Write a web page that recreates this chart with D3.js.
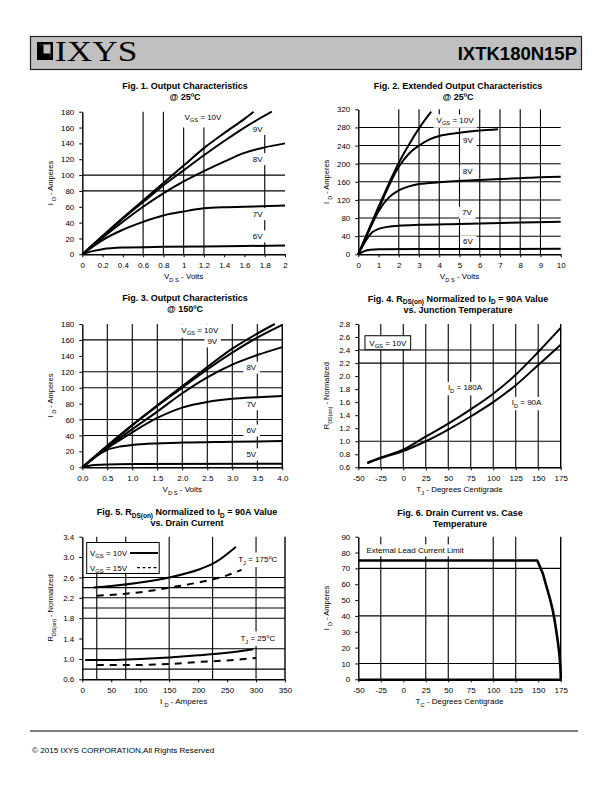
<!DOCTYPE html>
<html><head><meta charset="utf-8">
<script src="https://cdn.jsdelivr.net/npm/d3@7"></script>
<style>
body{margin:0;background:#fff}
svg{display:block}
text{font-family:"Liberation Sans",Arial,Helvetica,sans-serif;fill:#000}
</style>
</head><body>
<svg id="page" width="612" height="792"></svg>
<script>
// ---------------- DATA ----------------
// Fig 1 : Output characteristics @25C  [VDS (V), ID (A)]
const fig1XTicks = [0,0.2,0.4,0.6,0.8,1,1.2,1.4,1.6,1.8,2];
const fig1YTicks = [0,20,40,60,80,100,120,140,160,180];
const fig1Vgs10 = [[0,0],[0.2,23],[0.4,46],[0.6,68],[0.8,90],[1.0,112],[1.2,134],[1.4,153],[1.6,171],[1.69,180]];
const fig1Vgs9  = [[0,0],[0.2,23],[0.4,45],[0.6,66],[0.8,87],[1.0,106],[1.2,125],[1.4,143],[1.6,160],[1.87,180]];
const fig1Vgs8  = [[0,0],[0.2,21],[0.4,41],[0.6,60],[0.8,77],[1.0,92],[1.2,105],[1.4,117],[1.6,128],[1.8,135],[2.0,140]];
const fig1Vgs7  = [[0,0],[0.2,18],[0.4,31],[0.6,41],[0.8,49],[1.0,54],[1.2,58],[1.4,59.5],[1.6,60],[2.0,61.5]];
const fig1Vgs6  = [[0,0],[0.1,4],[0.2,6.5],[0.4,8.5],[0.8,9.5],[1.2,10],[2.0,11]];

// Fig 2 : Extended output characteristics @25C
const fig2XTicks = [0,1,2,3,4,5,6,7,8,9,10];
const fig2YTicks = [0,40,80,120,160,200,240,280,320];
const fig2Vgs10 = [[0,0],[0.5,53],[1,105],[1.5,155],[2,202],[2.5,242],[3,278],[3.6,315]];
const fig2Vgs9  = [[0,0],[0.5,50],[1,100],[1.5,150],[2,193],[2.5,222],[3,240],[3.5,253],[4,261],[5,268],[6,273],[6.9,276]];
const fig2Vgs8  = [[0,0],[0.5,50],[1,95],[1.5,125],[2,141],[2.5,150],[3,155],[4,159],[5,162],[6,164],[7,166],[8,168],[9,170],[10,171]];
const fig2Vgs7  = [[0,0],[0.3,25],[0.7,49],[1,56],[1.5,61],[2,63],[3,65],[5,67],[7,69],[10,72]];
const fig2Vgs6  = [[0,0],[0.3,7],[0.6,10],[1,11],[3,11.5],[10,12]];

// Fig 3 : Output characteristics @150C
const fig3XTicks = [0,0.5,1,1.5,2,2.5,3,3.5,4];
const fig3YTicks = [0,20,40,60,80,100,120,140,160,180];
const fig3Vgs10 = [[0,0],[0.5,27],[1,53],[1.5,78],[2,102],[2.5,126],[3,149],[3.5,168],[3.85,180]];
const fig3Vgs9  = [[0,0],[0.5,27],[1,53],[1.5,77],[2,100],[2.5,123],[3,144],[3.5,163],[4,179]];
const fig3Vgs8  = [[0,0],[0.5,25],[1,48],[1.5,70],[2,93],[2.5,113],[3,129],[3.5,141],[4,151]];
const fig3Vgs7  = [[0,0],[0.5,24],[1,44],[1.5,62],[2,75],[2.5,82],[3,86],[3.5,88],[4,89.5]];
const fig3Vgs6  = [[0,0],[0.25,13],[0.5,22],[0.75,26],[1,28],[1.5,30],[2,31],[3,32],[4,33]];
const fig3Vgs5  = [[0,0],[0.2,2.5],[0.5,3.5],[1,4],[4,4.5]];

// Fig 4 : RDS(on) normalized vs junction temperature [TJ (C), ratio]
const fig4XTicks = [-50,-25,0,25,50,75,100,125,150,175];
const fig4YTicks = [0.6,0.8,1.0,1.2,1.4,1.6,1.8,2.0,2.2,2.4,2.6,2.8];
const fig4Id180 = [[-40,0.67],[-25,0.75],[0,0.87],[25,1.07],[50,1.27],[75,1.49],[100,1.73],[125,2.02],[150,2.37],[175,2.74]];
const fig4Id90  = [[-40,0.66],[-25,0.74],[0,0.85],[25,1.0],[50,1.18],[75,1.38],[100,1.6],[125,1.86],[150,2.17],[175,2.48]];

// Fig 5 : RDS(on) normalized vs drain current [ID (A), ratio]
const fig5XTicks = [0,50,100,150,200,250,300,350];
const fig5YTicks = [0.6,1.0,1.4,1.8,2.2,2.6,3.0,3.4];
const fig5Tj175Vgs10 = [[20,2.4],[50,2.43],[100,2.5],[150,2.6],[200,2.75],[230,2.9],[265,3.2]];
const fig5Tj175Vgs15 = [[25,2.24],[75,2.28],[125,2.35],[150,2.4],[200,2.5],[250,2.64],[275,2.75]];
const fig5Tj25Vgs10  = [[5,0.98],[50,0.98],[100,1.0],[150,1.03],[200,1.07],[250,1.12],[295,1.19]];
const fig5Tj25Vgs15  = [[25,0.88],[75,0.88],[150,0.9],[200,0.94],[250,0.97],[300,1.02]];

// Fig 6 : Drain current vs case temperature [TC (C), ID (A)]
const fig6XTicks = [-50,-25,0,25,50,75,100,125,150,175];
const fig6YTicks = [0,10,20,30,40,50,60,70,80,90];
const fig6Id = [[-50,75],[149,75],[155,67],[160,57],[163,51],[166,44],[168,38],[170,31],[172,23],[173.5,16],[174.5,9],[175,3],[175,0]];

// ---------------- DRAWING ----------------
const svg = d3.select('#page');
const FONT = '"Liberation Sans", Arial, Helvetica, sans-serif';

function rich(sel, parts, size) {
  let shift = 0;
  parts.forEach(p => {
    const o = typeof p === 'string' ? {t: p} : p;
    const target = o.sub ? size * 0.3 : (o.sup ? -size * 0.4 : 0);
    const ts = sel.append('tspan').text(o.t);
    if (target !== shift) ts.attr('dy', target - shift);
    if (o.sub || o.sup) ts.attr('font-size', size * 0.72);
    shift = target;
  });
}

function bgLabel(g, px, py, parts, size, anchor) {
  const r = g.append('rect').attr('fill', '#fff');
  const t = g.append('text').attr('x', px).attr('y', py).attr('font-size', size)
    .attr('text-anchor', anchor || 'middle');
  rich(t, parts, size);
  const bb = t.node().getBBox();
  r.attr('x', bb.x - 3).attr('y', bb.y - 1.5).attr('width', bb.width + 6).attr('height', bb.height + 3);
  return t;
}

function makeChart(c) {
  const g = svg.append('g');
  const x = d3.scaleLinear().domain(c.xDomain).range([c.left, c.right]);
  const y = d3.scaleLinear().domain(c.yDomain).range([c.bottom, c.top]);
  const gg = g.append('g').attr('stroke', '#000').attr('stroke-width', 1.1);
  c.vGrid.forEach(d => gg.append('line')
    .attr('x1', x(d.v)).attr('x2', x(d.v))
    .attr('y1', y(d.from ?? c.yDomain[0])).attr('y2', y(d.to ?? c.yDomain[1])));
  c.hGrid.forEach(d => gg.append('line')
    .attr('y1', y(d.v)).attr('y2', y(d.v))
    .attr('x1', x(d.from ?? c.xDomain[0])).attr('x2', x(d.to ?? c.xDomain[1])));
  if (c.rightBorder) gg.append('line')
    .attr('x1', x(c.xDomain[1])).attr('x2', x(c.xDomain[1]))
    .attr('y1', y(c.yDomain[0])).attr('y2', y(c.yDomain[1])).attr('stroke-width', 1.4);
  const lg = g.append('g');
  (c.labels || []).forEach(l => bgLabel(lg, x(l.x), y(l.y), l.parts, l.size || 8, l.anchor));
  const line = d3.line().x(d => x(d[0])).y(d => y(d[1])).curve(c.curve || d3.curveMonotoneX);
  c.series.forEach(s => g.append('path').datum(s.data).attr('d', line)
    .attr('fill', 'none').attr('stroke', '#000').attr('stroke-width', s.width || 2)
    .attr('stroke-linejoin', 'round').attr('stroke-dasharray', s.dash || null));
  const xa = g.append('g').attr('transform', `translate(0,${c.bottom})`)
    .call(d3.axisBottom(x).tickValues(c.xTicks).tickFormat(c.xFmt).tickSize(3).tickSizeOuter(0).tickPadding(5));
  const ya = g.append('g').attr('transform', `translate(${c.left},0)`)
    .call(d3.axisLeft(y).tickValues(c.yTicks).tickFormat(c.yFmt).tickSize(3).tickSizeOuter(0).tickPadding(5));
  [xa, ya].forEach(a => {
    a.attr('font-size', 8).attr('font-family', FONT);
    a.select('.domain').attr('stroke-width', 1.4);
    a.selectAll('.tick line').attr('stroke-width', 1);
  });
  if (c.xAxisWidth) xa.select('.domain').attr('stroke-width', c.xAxisWidth);
  // titles
  c.title.forEach((ln, i) => {
    const t = g.append('text').attr('x', c.titleX).attr('y', c.titleY + i * c.titleGap)
      .attr('text-anchor', 'middle').attr('font-weight', 'bold').attr('font-size', 9);
    rich(t, ln, 9);
  });
  const xt = g.append('text').attr('x', (c.left + c.right) / 2).attr('y', c.bottom + 25)
    .attr('text-anchor', 'middle').attr('font-size', 8);
  rich(xt, c.xTitle, 8);
  const ytx = c.left - 29, yty = (c.top + c.bottom) / 2;
  const yt = g.append('text').attr('transform', `translate(${ytx},${yty}) rotate(-90)`)
    .attr('text-anchor', 'middle').attr('font-size', 7.5);
  rich(yt, c.yTitle, 7.5);
  return {g, x, y};
}

const f1 = d => String(+d.toFixed(2));
const fd1 = d => d.toFixed(1);
const VGS = (v) => ['V', {t: 'GS', sub: true}, ' = ' + v];

// header
svg.append('rect').attr('x', 30.5).attr('y', 36.5).attr('width', 551).attr('height', 33)
  .attr('fill', '#c0c0c0').attr('stroke', '#222').attr('stroke-width', 1.2);
svg.append('rect').attr('x', 37).attr('y', 42).attr('width', 16).attr('height', 18).attr('fill', '#000');
svg.append('rect').attr('x', 40).attr('y', 44.5).attr('width', 10.5).attr('height', 12.5).attr('fill', '#c0c0c0');
svg.append('rect').attr('x', 40).attr('y', 44.5).attr('width', 3.5).attr('height', 12.5).attr('fill', '#000');
svg.append('rect').attr('x', 40).attr('y', 53.5).attr('width', 10.5).attr('height', 3.5).attr('fill', '#000');
svg.append('text').attr('transform', 'translate(55,61) scale(1.22,1)').attr('font-size', 29)
  .style('font-family', '"Liberation Serif","DejaVu Serif",serif').text('IXYS');
svg.append('text').attr('x', 577).attr('y', 60).attr('font-size', 18.5).attr('font-weight', 'bold')
  .attr('text-anchor', 'end').text('IXTK180N15P');

// Fig 1
makeChart({
  left: 82.3, right: 285, top: 111.7, bottom: 254.3,
  xDomain: [0, 2], yDomain: [0, 180], xTicks: fig1XTicks, yTicks: fig1YTicks, xFmt: f1, yFmt: f1,
  vGrid: [{v: 0.6}, {v: 0.8}, {v: 1.0, to: 160}, {v: 1.2, to: 160}, {v: 1.8, to: 165}],
  hGrid: [{v: 100}, {v: 80}],
  labels: [
    {x: 1.19, y: 169.5, parts: VGS('10V')},
    {x: 1.73, y: 155, parts: ['9V']},
    {x: 1.73, y: 117, parts: ['8V']},
    {x: 1.73, y: 47.5, parts: ['7V']},
    {x: 1.73, y: 19.5, parts: ['6V']}
  ],
  series: [{data: fig1Vgs10}, {data: fig1Vgs9}, {data: fig1Vgs8}, {data: fig1Vgs7}, {data: fig1Vgs6}],
  title: [['Fig. 1. Output Characteristics'], ['@ 25ºC']], titleX: 185, titleY: 88.5, titleGap: 11.5,
  xTitle: ['V', {t: 'D S', sub: true}, ' - Volts'], yTitle: ['I ', {t: 'D', sub: true}, ' - Amperes']
});

// Fig 2
makeChart({
  left: 358.3, right: 560.7, top: 109.3, bottom: 254.3,
  xDomain: [0, 10], yDomain: [0, 320], xTicks: fig2XTicks, yTicks: fig2YTicks, xFmt: f1, yFmt: f1,
  vGrid: [2, 3, 4, 5, 6, 7, 8, 9].map(v => ({v})),
  hGrid: [40, 80, 120, 160, 200, 240, 280].map(v => ({v})),
  labels: [
    {x: 4.78, y: 290, parts: VGS('10V')},
    {x: 5.42, y: 245, parts: ['9V']},
    {x: 5.40, y: 177, parts: ['8V']},
    {x: 5.37, y: 86, parts: ['7V']},
    {x: 5.42, y: 22, parts: ['6V']}
  ],
  series: [{data: fig2Vgs10}, {data: fig2Vgs9}, {data: fig2Vgs8}, {data: fig2Vgs7}, {data: fig2Vgs6}],
  title: [['Fig. 2. Extended Output Characteristics'], ['@ 25ºC']], titleX: 458, titleY: 88.5, titleGap: 11.5,
  xTitle: ['V', {t: 'D S', sub: true}, ' - Volts'], yTitle: ['I ', {t: 'D', sub: true}, ' - Amperes']
});

// Fig 3
makeChart({
  left: 82.3, right: 282.3, top: 324, bottom: 467.3,
  xDomain: [0, 4], yDomain: [0, 180], xTicks: fig3XTicks, yTicks: fig3YTicks, xFmt: fd1, yFmt: f1,
  vGrid: [0.5, 1, 1.5, 2, 2.5, 3, 3.5].map(v => ({v})),
  hGrid: [160, 120, 100, 60, 40].map(v => ({v})),
  rightBorder: true,
  labels: [
    {x: 2.35, y: 169, parts: VGS('10V')},
    {x: 2.6, y: 155, parts: ['9V']},
    {x: 3.38, y: 122, parts: ['8V']},
    {x: 3.38, y: 76, parts: ['7V']},
    {x: 3.38, y: 43, parts: ['6V']},
    {x: 3.38, y: 13, parts: ['5V']}
  ],
  series: [{data: fig3Vgs10}, {data: fig3Vgs9}, {data: fig3Vgs8}, {data: fig3Vgs7}, {data: fig3Vgs6}, {data: fig3Vgs5}],
  title: [['Fig. 3. Output Characteristics'], ['@ 150ºC']], titleX: 185, titleY: 300.5, titleGap: 11.5,
  xTitle: ['V', {t: 'D S', sub: true}, ' - Volts'], yTitle: ['I ', {t: 'D', sub: true}, ' - Amperes']
});

// Fig 4
const c4 = makeChart({
  left: 358.3, right: 560.7, top: 324, bottom: 467.3,
  xDomain: [-50, 175], yDomain: [0.6, 2.8], xTicks: fig4XTicks, yTicks: fig4YTicks, xFmt: f1, yFmt: fd1,
  vGrid: [-25, 0, 25, 50, 75, 100, 125, 150].map(v => ({v})),
  hGrid: [2.4, 2.2, 1.0].map(v => ({v})),
  rightBorder: true,
  labels: [
    {x: 68.6, y: 1.78, parts: ['I', {t: 'D', sub: true}, ' = 180A']},
    {x: 137, y: 1.55, parts: ['I', {t: 'D', sub: true}, ' = 90A']}
  ],
  series: [{data: fig4Id180}, {data: fig4Id90}],
  title: [['Fig. 4. R', {t: 'DS(on)', sub: true}, ' Normalized to I', {t: 'D', sub: true}, ' = 90A Value'], ['vs. Junction Temperature']],
  titleX: 458, titleY: 301.5, titleGap: 11.5,
  xTitle: ['T', {t: 'J', sub: true}, ' - Degrees Centigrade'], yTitle: ['R', {t: 'DS(on)', sub: true}, ' - Normalized']
});
{
  const x = c4.x, y = c4.y, g = c4.g;
  g.append('rect').attr('x', x(-42.6)).attr('y', y(2.62)).attr('width', x(8.2) - x(-42.6)).attr('height', y(2.405) - y(2.62))
    .attr('fill', '#fff').attr('stroke', '#000').attr('stroke-width', 1);
  const t = g.append('text').attr('x', (x(-42.6) + x(8.2)) / 2).attr('y', y(2.465)).attr('text-anchor', 'middle').attr('font-size', 8);
  rich(t, VGS('10V'), 8);
}

// Fig 5
const c5 = makeChart({
  left: 82.3, right: 285, top: 536.7, bottom: 679.3,
  xDomain: [0, 350], yDomain: [0.6, 3.4], xTicks: fig5XTicks, yTicks: fig5YTicks, xFmt: f1, yFmt: fd1,
  vGrid: [25, 75, 150, 225, 300].map(v => ({v})),
  hGrid: [2.6, 2.4, 2.2, 2.0, 1.8, 1.2, 0.8].map(v => ({v})),
  rightBorder: true,
  labels: [
    {x: 303, y: 2.9, parts: ['T', {t: 'J', sub: true}, ' = 175', {t: 'o', sup: true}, 'C']},
    {x: 303, y: 1.35, parts: ['T', {t: 'J', sub: true}, ' = 25', {t: 'o', sup: true}, 'C']}
  ],
  series: [{data: fig5Tj175Vgs10}, {data: fig5Tj175Vgs15, dash: '7,6'},
           {data: fig5Tj25Vgs10}, {data: fig5Tj25Vgs15, dash: '7,6'}],
  title: [['Fig. 5. R', {t: 'DS(on)', sub: true}, ' Normalized to I', {t: 'D', sub: true}, ' = 90A Value'], ['vs. Drain Current']],
  titleX: 187, titleY: 515, titleGap: 10.5,
  xTitle: ['I ', {t: 'D', sub: true}, ' - Amperes'], yTitle: ['R', {t: 'DS(on)', sub: true}, ' - Normalized']
});
{
  const g = c5.g;
  g.append('rect').attr('x', 86.7).attr('y', 542.5).attr('width', 72.5).attr('height', 31)
    .attr('fill', '#fff').attr('stroke', '#000').attr('stroke-width', 1);
  const t1 = g.append('text').attr('x', 90).attr('y', 556).attr('font-size', 8);
  rich(t1, VGS('10V'), 8);
  g.append('line').attr('x1', 130).attr('x2', 158).attr('y1', 553).attr('y2', 553).attr('stroke', '#000').attr('stroke-width', 2);
  const t2 = g.append('text').attr('x', 90).attr('y', 570.5).attr('font-size', 8);
  rich(t2, VGS('15V'), 8);
  g.append('line').attr('x1', 137).attr('x2', 158).attr('y1', 567.7).attr('y2', 567.7).attr('stroke', '#000')
    .attr('stroke-width', 1.2).attr('stroke-dasharray', '3,2.5');
}

// Fig 6
const c6 = makeChart({
  left: 358.3, right: 560.7, top: 536.7, bottom: 679.3,
  xDomain: [-50, 175], yDomain: [0, 90], xTicks: fig6XTicks, yTicks: fig6YTicks, xFmt: f1, yFmt: f1,
  vGrid: [-25, 25, 50, 100, 125].map(v => ({v})),
  hGrid: [70, 40, 10].map(v => ({v})),
  rightBorder: true, xAxisWidth: 2.6, curve: d3.curveLinear,
  labels: [{x: -41, y: 79.8, parts: ['External Lead Current Limit'], anchor: 'start'}],
  series: [{data: fig6Id, width: 2.6}],
  title: [['Fig. 6. Drain Current vs. Case'], ['Temperature']], titleX: 460, titleY: 516, titleGap: 10.5,
  xTitle: ['T', {t: 'C', sub: true}, ' - Degrees Centigrade'], yTitle: ['I ', {t: 'D', sub: true}, ' - Amperes']
});

// footer
svg.append('line').attr('x1', 30).attr('x2', 578).attr('y1', 731).attr('y2', 731).attr('stroke', '#000').attr('stroke-width', 1);
svg.append('text').attr('x', 32).attr('y', 753).attr('font-size', 8.1).text('© 2015 IXYS CORPORATION,All Rights Reserved');
</script>
</body></html>
